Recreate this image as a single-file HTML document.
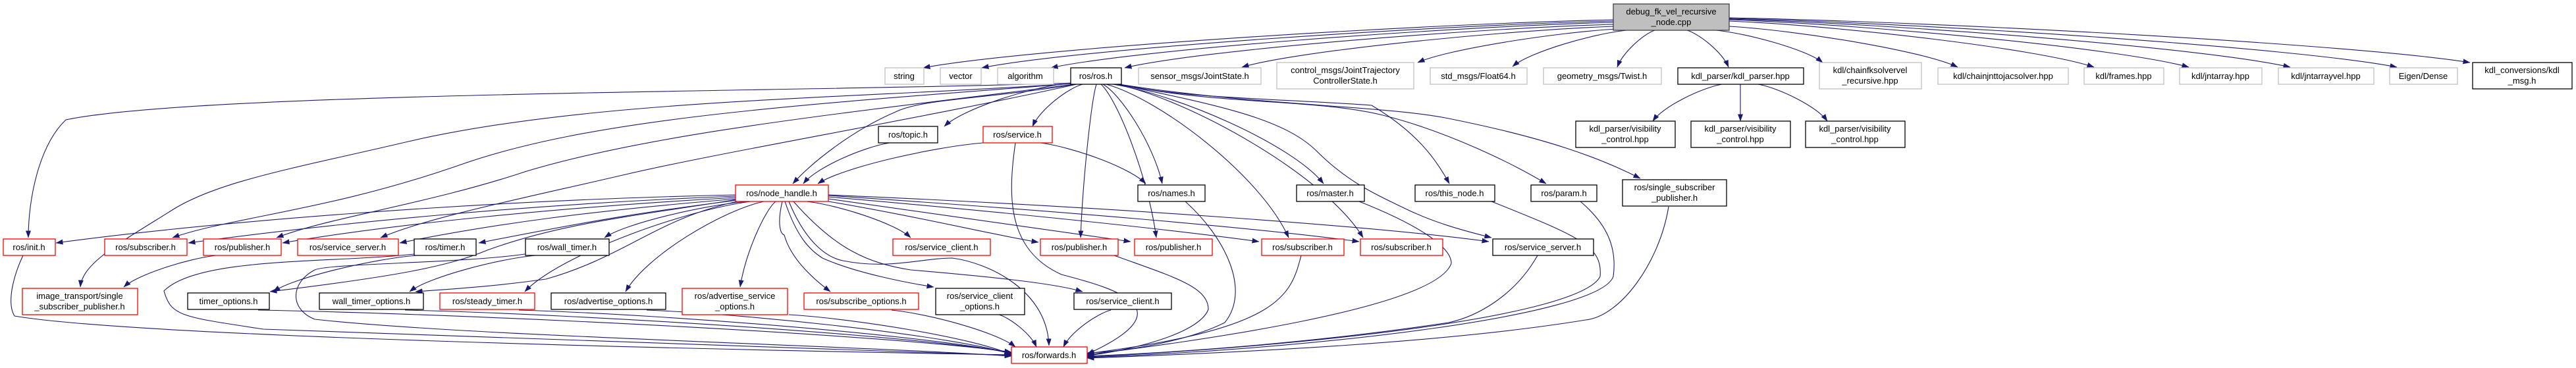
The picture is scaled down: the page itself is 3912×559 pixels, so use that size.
<!DOCTYPE html>
<html><head><meta charset="utf-8"><style>
html,body{margin:0;padding:0;background:#fff;}
svg{display:block;}
text{font-family:"Liberation Sans",sans-serif;font-size:13px;fill:#000;text-anchor:middle;}
rect{stroke-width:1.3;}
</style></head><body>
<svg width="3912" height="559" viewBox="0 0 3912 559" xmlns="http://www.w3.org/2000/svg">
<defs><marker id="a" viewBox="0 0 11 8" refX="10.5" refY="4" markerWidth="11" markerHeight="8" markerUnits="userSpaceOnUse" orient="auto"><path d="M0,0 L11,4 L0,8 z" fill="#191970"/></marker></defs>
<g id="edges" fill="none" stroke="#191970" stroke-width="1.1" marker-end="url(#a)">
<path d="M1628,126 C1200,140 300,140 100,182 C60,220 43,300 43,361"/>
<path d="M1628,127 C1300,150 900,150 620,215 C450,255 330,275 260,320 C180,370 125,400 122,436"/>
<path d="M1630,127 C1200,160 900,180 700,250 C500,320 350,330 262,361"/>
<path d="M1632,128 C1300,170 1000,200 800,260 C650,310 500,330 420,361"/>
<path d="M1635,128 C1400,180 1100,230 950,265 C800,300 650,330 578,361"/>
<path d="M1634,128 C1500,150 1400,150 1360,170 C1290,200 1230,250 1204,279"/>
<path d="M1700,128 C1800,150 1950,150 2083,160 C2150,200 2180,240 2201,279"/>
<path d="M1700,128 C1850,160 2000,150 2100,175 C2200,200 2300,250 2348,279"/>
<path d="M1700,128 C1900,160 2100,160 2200,180 C2350,210 2430,240 2491,271"/>
<path d="M1698,128 C1850,160 1950,180 2000,230 C2050,280 2100,300 2128,314 C2180,340 2230,352 2265,361"/>
</g>
<g fill="#fff">
<rect x="2450" y="6" width="176" height="40" stroke="#404040" fill="#bfbfbf"/><text x="2538" y="22">debug_fk_vel_recursive</text><text x="2538" y="38">_node.cpp</text>
<rect x="1344" y="103" width="59" height="25" stroke="#bfbfbf"/><text x="1373" y="120">string</text>
<rect x="1428" y="103" width="62" height="25" stroke="#bfbfbf"/><text x="1459" y="120">vector</text>
<rect x="1515" y="103" width="85" height="25" stroke="#bfbfbf"/><text x="1557" y="120">algorithm</text>
<rect x="1626" y="103" width="77" height="25" stroke="#000"/><text x="1664" y="120">ros/ros.h</text>
<rect x="1729" y="103" width="186" height="25" stroke="#bfbfbf"/><text x="1822" y="120">sensor_msgs/JointState.h</text>
<rect x="1939" y="95" width="208" height="40" stroke="#bfbfbf"/><text x="2043" y="111">control_msgs/JointTrajectory</text><text x="2043" y="127">ControllerState.h</text>
<rect x="2172" y="103" width="147" height="25" stroke="#bfbfbf"/><text x="2245" y="120">std_msgs/Float64.h</text>
<rect x="2344" y="103" width="179" height="25" stroke="#bfbfbf"/><text x="2433" y="120">geometry_msgs/Twist.h</text>
<rect x="2548" y="103" width="191" height="25" stroke="#000"/><text x="2643" y="120">kdl_parser/kdl_parser.hpp</text>
<rect x="2763" y="95" width="155" height="40" stroke="#bfbfbf"/><text x="2840" y="111">kdl/chainfksolvervel</text><text x="2840" y="127">_recursive.hpp</text>
<rect x="2943" y="103" width="198" height="25" stroke="#bfbfbf"/><text x="3042" y="120">kdl/chainjnttojacsolver.hpp</text>
<rect x="3165" y="103" width="121" height="25" stroke="#bfbfbf"/><text x="3225" y="120">kdl/frames.hpp</text>
<rect x="3310" y="103" width="125" height="25" stroke="#bfbfbf"/><text x="3372" y="120">kdl/jntarray.hpp</text>
<rect x="3460" y="103" width="145" height="25" stroke="#bfbfbf"/><text x="3532" y="120">kdl/jntarrayvel.hpp</text>
<rect x="3629" y="103" width="103" height="25" stroke="#bfbfbf"/><text x="3680" y="120">Eigen/Dense</text>
<rect x="3755" y="95" width="151" height="40" stroke="#000"/><text x="3830" y="111">kdl_conversions/kdl</text><text x="3830" y="127">_msg.h</text>
<rect x="2393" y="184" width="151" height="40" stroke="#000"/><text x="2468" y="200">kdl_parser/visibility</text><text x="2468" y="216">_control.hpp</text>
<rect x="2568" y="184" width="151" height="40" stroke="#000"/><text x="2643" y="200">kdl_parser/visibility</text><text x="2643" y="216">_control.hpp</text>
<rect x="2742" y="184" width="151" height="40" stroke="#000"/><text x="2817" y="200">kdl_parser/visibility</text><text x="2817" y="216">_control.hpp</text>
<rect x="1334" y="192" width="90" height="25" stroke="#000"/><text x="1379" y="209">ros/topic.h</text>
<rect x="1493" y="192" width="105" height="25" stroke="#f00"/><text x="1545" y="209">ros/service.h</text>
<rect x="1117" y="281" width="141" height="25" stroke="#f00"/><text x="1187" y="298">ros/node_handle.h</text>
<rect x="1728" y="281" width="102" height="25" stroke="#000"/><text x="1779" y="298">ros/names.h</text>
<rect x="1969" y="281" width="103" height="25" stroke="#000"/><text x="2020" y="298">ros/master.h</text>
<rect x="2149" y="281" width="121" height="25" stroke="#000"/><text x="2209" y="298">ros/this_node.h</text>
<rect x="2325" y="281" width="100" height="25" stroke="#000"/><text x="2375" y="298">ros/param.h</text>
<rect x="2464" y="273" width="158" height="40" stroke="#000"/><text x="2543" y="289">ros/single_subscriber</text><text x="2543" y="305">_publisher.h</text>
<rect x="5" y="363" width="79" height="25" stroke="#f00"/><text x="44" y="380">ros/init.h</text>
<rect x="159" y="363" width="125" height="25" stroke="#f00"/><text x="221" y="380">ros/subscriber.h</text>
<rect x="309" y="363" width="118" height="25" stroke="#f00"/><text x="368" y="380">ros/publisher.h</text>
<rect x="452" y="363" width="153" height="25" stroke="#f00"/><text x="528" y="380">ros/service_server.h</text>
<rect x="629" y="363" width="94" height="25" stroke="#000"/><text x="676" y="380">ros/timer.h</text>
<rect x="798" y="363" width="127" height="25" stroke="#000"/><text x="861" y="380">ros/wall_timer.h</text>
<rect x="1356" y="363" width="148" height="25" stroke="#f00"/><text x="1430" y="380">ros/service_client.h</text>
<rect x="1580" y="363" width="118" height="25" stroke="#f00"/><text x="1639" y="380">ros/publisher.h</text>
<rect x="1723" y="363" width="118" height="25" stroke="#f00"/><text x="1782" y="380">ros/publisher.h</text>
<rect x="1916" y="363" width="125" height="25" stroke="#f00"/><text x="1978" y="380">ros/subscriber.h</text>
<rect x="2066" y="363" width="125" height="25" stroke="#f00"/><text x="2128" y="380">ros/subscriber.h</text>
<rect x="2267" y="363" width="153" height="25" stroke="#000"/><text x="2343" y="380">ros/service_server.h</text>
<rect x="34" y="438" width="175" height="40" stroke="#f00"/><text x="121" y="454">image_transport/single</text><text x="121" y="470">_subscriber_publisher.h</text>
<rect x="285" y="445" width="124" height="25" stroke="#000"/><text x="347" y="462">timer_options.h</text>
<rect x="485" y="445" width="158" height="25" stroke="#000"/><text x="564" y="462">wall_timer_options.h</text>
<rect x="668" y="445" width="144" height="25" stroke="#f00"/><text x="740" y="462">ros/steady_timer.h</text>
<rect x="837" y="445" width="174" height="25" stroke="#000"/><text x="924" y="462">ros/advertise_options.h</text>
<rect x="1036" y="438" width="160" height="40" stroke="#f00"/><text x="1116" y="454">ros/advertise_service</text><text x="1116" y="470">_options.h</text>
<rect x="1221" y="445" width="174" height="25" stroke="#f00"/><text x="1308" y="462">ros/subscribe_options.h</text>
<rect x="1421" y="438" width="135" height="40" stroke="#000"/><text x="1488" y="454">ros/service_client</text><text x="1488" y="470">_options.h</text>
<rect x="1631" y="445" width="148" height="25" stroke="#000"/><text x="1705" y="462">ros/service_client.h</text>
<rect x="1536" y="527" width="115" height="25" stroke="#f00"/><text x="1593" y="544">ros/forwards.h</text>
</g>
</svg>
<script>
var NS="http://www.w3.org/2000/svg";
var E=[
[2450,30,1402,103],[2450,32,1491,103],[2450,34,1596,103],[2450,37,1708,103],[2452,40,1886,102],[2455,44,2153,95],[2470,46,2297,101],[2513,46,2456,102],[2562,46,2625,102],[2606,46,2768,95],[2626,40,2973,102],[2626,32,3180,102],[2626,30,3324,102],[2626,29,3478,102],[2626,28,3640,102],[2626,27,3751,95],
[1612,128,1434,192],[1644,128,1568,192],[1665,128,1641,361],[1672,128,1756,361],[1675,128,1765,279],[1680,128,1957,361],[1690,128,2010,279],[1695,128,2070,361],
[2615,128,2510,184],[2643,128,2643,184],[2670,128,2775,184],
[1351,217,1220,279],[1493,217,1242,279],[1580,217,1740,279],
"M1542,217 C1530,300 1530,380 1612,417 C1700,440 1800,470 1651,538",
"M1117,296 C700,305 300,340 85,369",
"M1117,298 C800,310 500,340 286,369",
"M1118,300 C850,315 600,340 429,369",
"M1119,302 C900,320 750,340 607,369",
"M1121,304 C950,325 850,345 727,369",
[1135,306,918,361],
"M1120,303 C950,330 850,340 740,380 C680,405 600,420 410,443",
"M1125,305 C1000,330 950,390 829,424 C750,435 700,438 631,443",
[1140,306,797,443],[1160,306,950,443],[1178,306,1124,436],
"M1188,306 C1180,340 1185,355 1191,357 C1200,390 1230,420 1261,443",
"M1192,306 C1210,360 1230,380 1249,392 C1300,415 1380,430 1418,436",
"M1198,306 C1220,360 1250,390 1280,396 C1350,410 1400,392 1446,392 C1500,399 1590,440 1593,525",
"M1205,306 C1270,380 1320,400 1383,410 C1500,420 1600,430 1644,443",
[1225,306,1383,361],
"M1258,306 C1400,330 1500,355 1577,368",
"M1258,302 C1450,330 1600,350 1717,367",
"M1258,299 C1500,320 1750,345 1912,367",
"M1258,297 C1600,320 1900,345 2064,367",
"M1258,296 C1700,315 2100,345 2261,367",
[632,388,415,443],
"M629,386 C500,400 300,390 249,442 C260,480 274,481 400,500 C900,520 1300,530 1536,540",
[813,388,622,443],
"M797,386 C700,400 500,400 478,410 C440,430 440,470 478,485 C700,510 1300,525 1536,541",
"M35,388 C20,420 10,460 22,480 C200,510 1000,530 1536,539",
[328,388,188,436],
[392,471,1536,535],[615,471,1536,536],[788,471,1536,537],[982,471,1536,538],[1198,478,1536,539],
[1354,471,1542,527],[1517,478,1574,527],[1687,471,1615,527],
"M1692,388 C1780,420 1835,435 1835,470 C1820,510 1700,535 1651,540",
"M1800,306 C1860,360 1900,440 1860,490 C1800,520 1700,535 1651,536",
"M1976,388 C1960,450 1944,500 1651,537",
"M2064,306 C2150,340 2204,374 2204,400 C2180,470 1800,520 1651,539",
"M2335,388 C2300,450 2242,481 2200,490 C2000,520 1800,535 1651,541",
"M2265,306 C2400,360 2434,374 2430,420 C2400,480 2000,525 1651,542",
"M2400,306 C2440,340 2456,375 2450,420 C2430,480 2000,530 1651,543",
"M2534,314 C2520,400 2460,481 2408,486 C2200,520 1900,535 1651,544"
];
var G=document.getElementById('edges');
E.forEach(function(a){
 var d;
 if(typeof a==='string'){d=a;}else{
  var x1=a[0],y1=a[1],x2=a[2],y2=a[3];
  d="M"+x1+","+y1+" C"+(x1+(x2-x1)*0.3)+","+(y1+(y2-y1)*0.1)+" "+(x1+(x2-x1)*0.85)+","+(y2-(y2-y1)*0.4)+" "+x2+","+y2;
 }
 var p=document.createElementNS(NS,'path');p.setAttribute('d',d);G.appendChild(p);
});
</script>
</body></html>
